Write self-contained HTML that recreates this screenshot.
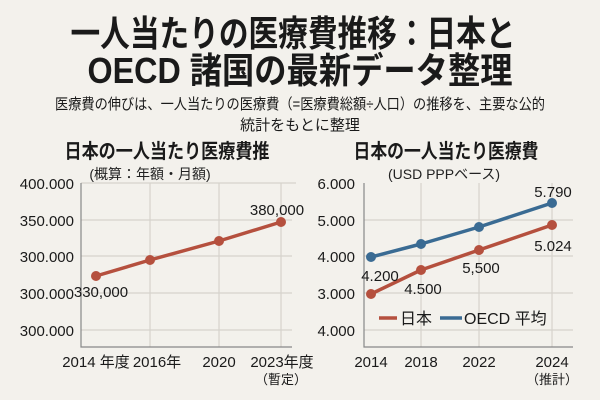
<!DOCTYPE html>
<html><head><meta charset="utf-8"><style>
body{margin:0;background:#f3f1ec;}
svg{display:block;font-family:"Liberation Sans","Noto Sans CJK JP",sans-serif;}
</style></head><body>
<svg width="600" height="400" viewBox="0 0 600 400">
<rect width="600" height="400" fill="#f3f1ec"/>
<g font-weight="bold" fill="#1a1a1a" text-anchor="middle">
<text x="293" y="46" font-size="36" textLength="445" lengthAdjust="spacingAndGlyphs">一人当たりの医療費推移：日本と</text>
<text x="300" y="83" font-size="36" textLength="425" lengthAdjust="spacingAndGlyphs">OECD 諸国の最新データ整理</text>
</g>
<g fill="#1a1a1a" text-anchor="middle" font-size="15">
<text x="300" y="109" textLength="490" lengthAdjust="spacingAndGlyphs">医療費の伸びは、一人当たりの医療費（=医療費総額÷人口）の推移を、主要な公的</text>
<text x="300" y="130">統計をもとに整理</text>
</g>
<g fill="#1a1a1a" text-anchor="middle" font-weight="bold" font-size="20">
<text x="167" y="158" textLength="205" lengthAdjust="spacingAndGlyphs">日本の一人当たり医療費推</text>
<text x="446" y="158" textLength="185" lengthAdjust="spacingAndGlyphs">日本の一人当たり医療費</text>
</g>
<g fill="#222" text-anchor="middle" font-size="14">
<text x="150" y="179">(概算：年額・月額)</text>
<text x="444" y="179">(USD PPPベース)</text>
</g>
<g stroke="#d6d3cc" stroke-width="1.2">
<line x1="81" y1="220" x2="292" y2="220"/><line x1="81" y1="256" x2="292" y2="256"/><line x1="81" y1="293" x2="292" y2="293"/><line x1="81" y1="330" x2="292" y2="330"/>
<line x1="150" y1="183" x2="150" y2="347"/><line x1="219" y1="183" x2="219" y2="347"/><line x1="281" y1="183" x2="281" y2="347"/><line x1="81" y1="183" x2="296" y2="183"/>
<line x1="364" y1="220" x2="573" y2="220"/><line x1="364" y1="256" x2="573" y2="256"/><line x1="364" y1="293" x2="573" y2="293"/><line x1="364" y1="330" x2="573" y2="330"/>
<line x1="421" y1="183" x2="421" y2="347"/><line x1="479" y1="183" x2="479" y2="347"/><line x1="552" y1="183" x2="552" y2="347"/>
</g>
<g stroke="#888" stroke-width="1.2" fill="none">
<polyline points="81,183 81,347 292,347"/>
<polyline points="364,183 364,347 573,347"/>
</g>
<g font-size="15" fill="#1a1a1a" text-anchor="end">
<text x="74" y="189">400.000</text><text x="74" y="226">350.000</text><text x="74" y="262">300.000</text><text x="74" y="299">300.000</text><text x="74" y="336">300.000</text>
<text x="355" y="189">6.000</text><text x="355" y="226">5.000</text><text x="355" y="262">4.000</text><text x="355" y="299">3.000</text><text x="355" y="336">4.000</text>
</g>
<g font-size="15" fill="#1a1a1a" text-anchor="middle">
<text x="96" y="367">2014 年度</text><text x="157" y="367">2016年</text><text x="219" y="367">2020</text><text x="282" y="367">2023年度</text>
<text x="281" y="384" font-size="13">（暫定）</text>
<text x="371" y="367">2014</text><text x="421" y="367">2018</text><text x="479" y="367">2022</text><text x="552" y="367">2024</text>
<text x="552" y="384" font-size="13">（推計）</text>
</g>
<g stroke-width="3.5" fill="none" stroke-linejoin="round">
<polyline points="96,276 150,260 219,241 281,222" stroke="#b5503e"/>
<polyline points="371,257 421,244 479,227 552,203" stroke="#3a6b93"/>
<polyline points="371,294 421,270 479,250 552,225" stroke="#b5503e"/>
</g>
<g fill="#b5503e"><circle cx="96" cy="276" r="5"/><circle cx="150" cy="260" r="5"/><circle cx="219" cy="241" r="5"/><circle cx="281" cy="222" r="5"/>
<circle cx="371" cy="294" r="5"/><circle cx="421" cy="270" r="5"/><circle cx="479" cy="250" r="5"/><circle cx="552" cy="225" r="5"/></g>
<g fill="#3a6b93"><circle cx="371" cy="257" r="5"/><circle cx="421" cy="244" r="5"/><circle cx="479" cy="227" r="5"/><circle cx="552" cy="203" r="5"/></g>
<g font-size="15" fill="#1a1a1a" text-anchor="middle">
<text x="101" y="297">330,000</text><text x="277" y="215">380,000</text>
<text x="380" y="281">4.200</text><text x="423" y="294">4.500</text><text x="481" y="273">5,500</text>
<text x="553" y="197">5.790</text><text x="553" y="251">5.024</text>
</g>
<line x1="379" y1="318" x2="397" y2="318" stroke="#b5503e" stroke-width="3.5"/>
<text x="400" y="324" font-size="16" fill="#1a1a1a">日本</text>
<line x1="440" y1="318" x2="462" y2="318" stroke="#3a6b93" stroke-width="3.5"/>
<text x="464" y="324" font-size="16" fill="#1a1a1a">OECD 平均</text>
</svg>
</body></html>
